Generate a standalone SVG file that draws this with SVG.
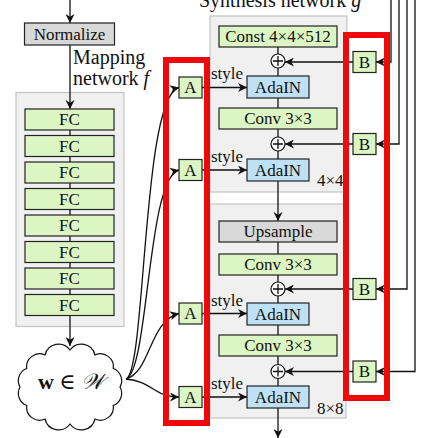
<svg xmlns="http://www.w3.org/2000/svg" width="438" height="438" viewBox="0 0 438 438">
<style>
text{font-family:"Liberation Serif","DejaVu Serif",serif;fill:#111}
.t{font-size:17px;text-anchor:middle}
.lbl{font-size:20px}
.panel{fill:#f0f0f0;stroke:#c4c4c4;stroke-width:1.2}
.g{fill:#dbf6c2;stroke:#222;stroke-width:1.2}
.b{fill:#bfe1f6;stroke:#222;stroke-width:1.2}
.gr{fill:#d8d8d8;stroke:#222;stroke-width:1.2}
.c{fill:none;stroke:#111;stroke-width:1.3}
.arr{marker-end:url(#ah)}
.red{fill:none;stroke:#ee0a0a;stroke-width:6}
.pl{fill:#fff;stroke:#111;stroke-width:1.2}
</style>
<defs>
<marker id="ah" viewBox="0 0 10 10" refX="10" refY="5" markerWidth="10" markerHeight="9" markerUnits="userSpaceOnUse" orient="auto">
<path d="M0,0 L10,5 L0,10 L3,5 z" fill="#111"/>
</marker>
</defs>
<rect width="438" height="438" fill="#fff"/>

<!-- panels -->
<rect id="mapping-panel" class="panel" x="16" y="92.5" width="108" height="234"/>
<rect id="synthesis-panel-4" class="panel" x="210" y="16" width="137" height="176"/>
<rect id="synthesis-panel-8" class="panel" x="210" y="204" width="136" height="214"/>

<text class="lbl" x="73" y="64">Mapping</text>
<text class="lbl" x="73" y="85">network <tspan font-style="italic">f</tspan></text>
<text class="lbl" x="199" y="7">Synthesis network <tspan font-style="italic">g</tspan></text>

<g id="connectors">
<path class="c arr" d="M70,0 V23"/>
<path class="c arr" d="M70,45 V109"/>
<path class="c" d="M70,130 V135.5 M70,156.5 V162 M70,183 V188.5 M70,209.5 V215 M70,236 V241.5 M70,262.5 V268 M70,289 V294.5"/>
<path class="c arr" d="M70,315.5 V346"/>
<!-- curves from w to A -->
<path class="c arr" d="M126,379 C146,372 142,96 179,87.5"/>
<path class="c arr" d="M126,379 C149,370 147,178 179,170"/>
<path class="c arr" d="M126,379 C151,372 149,321 179,313.5"/>
<path class="c arr" d="M126,379 C152,381 154,397 179,397"/>
<!-- style arrows -->
<path class="c arr" d="M202,87.5 H247"/>
<path class="c arr" d="M202,170 H247"/>
<path class="c arr" d="M202,313.5 H247"/>
<path class="c arr" d="M202,397 H247"/>
<!-- synthesis vertical -->
<path class="c" d="M278,47 V54 M278,68 V76 M278,98 V108 M278,129 V137 M278,151 V159"/>
<path class="c arr" d="M278,181 V221"/>
<path class="c" d="M278,242 V254 M278,275 V282 M278,296 V303 M278,325 V335 M278,356 V364 M278,378 V386"/>
<path class="c arr" d="M278,408 V438"/>
<!-- B to plus -->
<path class="c arr" d="M353,62 H285"/>
<path class="c arr" d="M353,144 H285"/>
<path class="c arr" d="M353,289 H285"/>
<path class="c arr" d="M353,371.5 H285"/>
<!-- noise inputs -->
<path class="c arr" d="M391,0 V62 H376"/>
<path class="c arr" d="M399,0 V144 H376"/>
<path class="c arr" d="M407,0 V289 H376"/>
<path class="c arr" d="M415,0 V371.5 H376"/>
</g>

<g id="normalize"><rect class="gr" x="24.5" y="23" width="90" height="22"/><text class="t" x="69.5" y="40">Normalize</text></g>
<g id="fc1"><rect class="g" x="25" y="109" width="89" height="21"/><text class="t" x="69.5" y="125">FC</text></g>
<g id="fc2"><rect class="g" x="25" y="135.5" width="89" height="21"/><text class="t" x="69.5" y="151.5">FC</text></g>
<g id="fc3"><rect class="g" x="25" y="162" width="89" height="21"/><text class="t" x="69.5" y="178">FC</text></g>
<g id="fc4"><rect class="g" x="25" y="188.5" width="89" height="21"/><text class="t" x="69.5" y="204.5">FC</text></g>
<g id="fc5"><rect class="g" x="25" y="215" width="89" height="21"/><text class="t" x="69.5" y="231">FC</text></g>
<g id="fc6"><rect class="g" x="25" y="241.5" width="89" height="21"/><text class="t" x="69.5" y="257.5">FC</text></g>
<g id="fc7"><rect class="g" x="25" y="268" width="89" height="21"/><text class="t" x="69.5" y="284">FC</text></g>
<g id="fc8"><rect class="g" x="25" y="294.5" width="89" height="21"/><text class="t" x="69.5" y="310.5">FC</text></g>

<g id="w-cloud">
<path fill="#fff" stroke="#111" stroke-width="1.2" d="M120,387 A13,13 0 0 1 113.3,405.5 A13,13 0 0 1 95,419 A14,14 0 0 1 70,424 A14,14 0 0 1 45,419 A13,13 0 0 1 26.7,405.5 A13,13 0 0 1 20,387 A13,13 0 0 1 26.7,368.5 A13,13 0 0 1 45,355 A14,14 0 0 1 70,350 A14,14 0 0 1 95,355 A13,13 0 0 1 113.3,368.5 A13,13 0 0 1 120,387 Z"/>
<text x="71" y="389" font-size="22" text-anchor="middle"><tspan font-weight="bold">w</tspan> ∈ <tspan font-family="DejaVu Serif, DejaVu Sans, serif" font-style="italic">𝒲</tspan></text>
</g>

<g id="A1"><rect class="g" x="179" y="77" width="23" height="21"/><text class="t" x="190.5" y="93">A</text></g>
<g id="A2"><rect class="g" x="179" y="159.5" width="23" height="21"/><text class="t" x="190.5" y="175.5">A</text></g>
<g id="A3"><rect class="g" x="179" y="303" width="23" height="21"/><text class="t" x="190.5" y="319">A</text></g>
<g id="A4"><rect class="g" x="179" y="386.5" width="23" height="21"/><text class="t" x="190.5" y="402.5">A</text></g>

<text font-size="17" x="211" y="79">style</text>
<text font-size="17" x="211" y="162">style</text>
<text font-size="17" x="211" y="305.5">style</text>
<text font-size="17" x="211" y="389">style</text>

<g id="const"><rect class="g" x="219" y="26" width="118" height="21"/><text class="t" x="278" y="42">Const 4×4×512</text></g>
<g id="plus1"><circle class="pl" cx="278" cy="61" r="7"/><path class="c" d="M273,61 H283 M278,56 V66" stroke-width="1"/></g>
<g id="adain1"><rect class="b" x="247" y="76" width="62" height="22"/><text class="t" x="278" y="93">AdaIN</text></g>
<g id="conv1"><rect class="g" x="219" y="108" width="118" height="21"/><text class="t" x="278" y="124">Conv 3×3</text></g>
<g id="plus2"><circle class="pl" cx="278" cy="144" r="7"/><path class="c" d="M273,144 H283 M278,139 V149" stroke-width="1"/></g>
<g id="adain2"><rect class="b" x="247" y="159" width="62" height="22"/><text class="t" x="278" y="176">AdaIN</text></g>
<text font-size="17" x="317" y="186">4×4</text>

<g id="upsample"><rect class="gr" x="219" y="221" width="118" height="21"/><text class="t" x="278" y="237">Upsample</text></g>
<g id="conv2"><rect class="g" x="219" y="254" width="118" height="21"/><text class="t" x="278" y="270">Conv 3×3</text></g>
<g id="plus3"><circle class="pl" cx="278" cy="289" r="7"/><path class="c" d="M273,289 H283 M278,284 V294" stroke-width="1"/></g>
<g id="adain3"><rect class="b" x="247" y="303" width="62" height="22"/><text class="t" x="278" y="320">AdaIN</text></g>
<g id="conv3"><rect class="g" x="219" y="335" width="118" height="21"/><text class="t" x="278" y="351">Conv 3×3</text></g>
<g id="plus4"><circle class="pl" cx="278" cy="371.5" r="7"/><path class="c" d="M273,371.5 H283 M278,366.5 V376.5" stroke-width="1"/></g>
<g id="adain4"><rect class="b" x="247" y="386" width="62" height="22"/><text class="t" x="278" y="403">AdaIN</text></g>
<text font-size="17" x="317" y="414">8×8</text>

<g id="B1"><rect class="g" x="353" y="51.5" width="23" height="21"/><text class="t" x="364.5" y="67.5">B</text></g>
<g id="B2"><rect class="g" x="353" y="133.5" width="23" height="21"/><text class="t" x="364.5" y="149.5">B</text></g>
<g id="B3"><rect class="g" x="353" y="278.5" width="23" height="21"/><text class="t" x="364.5" y="294.5">B</text></g>
<g id="B4"><rect class="g" x="353" y="361" width="23" height="21"/><text class="t" x="364.5" y="377">B</text></g>

<rect id="A-highlight" class="red" x="166" y="60" width="41" height="363"/>
<rect id="B-highlight" class="red" x="346" y="35" width="41" height="363"/>
</svg>
